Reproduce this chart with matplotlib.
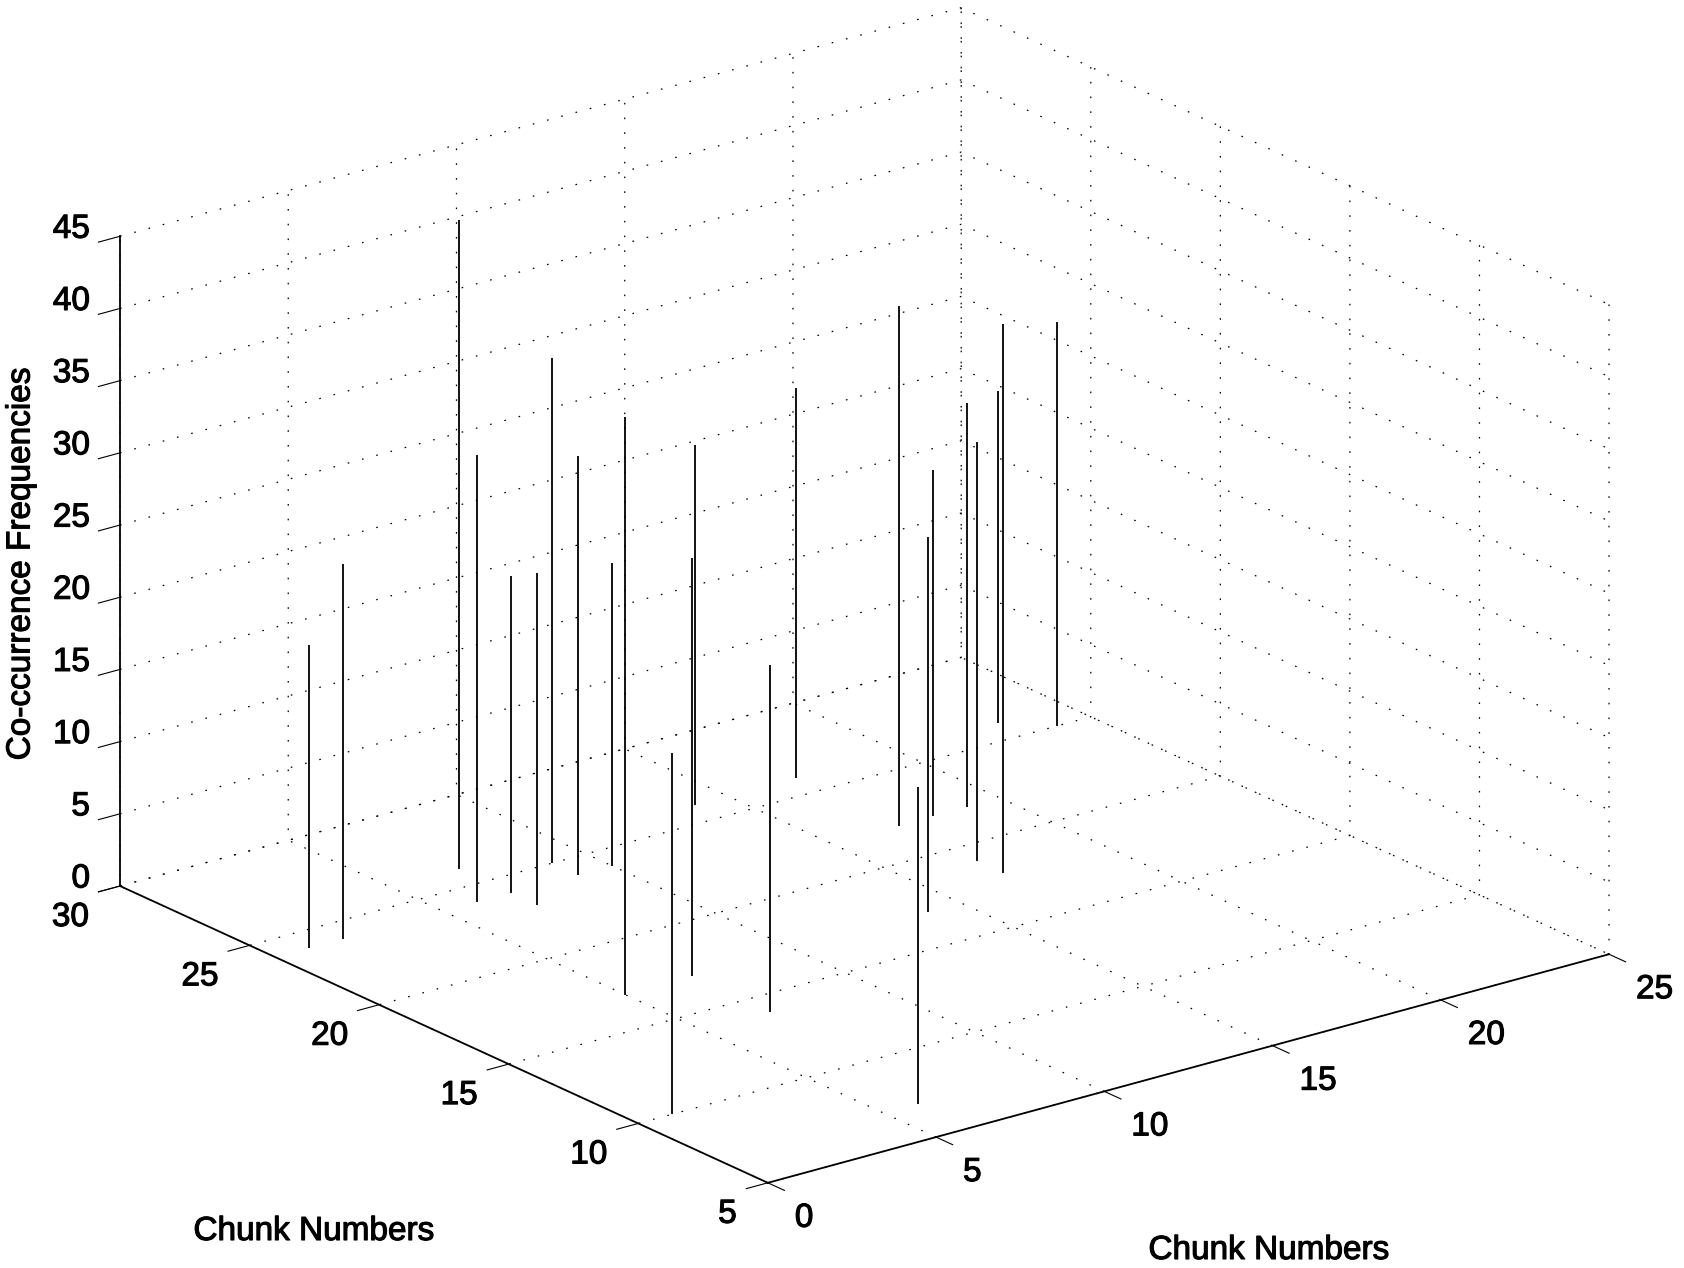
import matplotlib.pyplot as plt
import matplotlib.patheffects as pe
import numpy as np
from matplotlib.transforms import ScaledTranslation
from mpl_toolkits.mplot3d import proj3d

plt.rcParams["font.family"] = ["Liberation Sans", "DejaVu Sans"]

# chunk pairs and their co-occurrence counts
chunk_x = [1, 2, 7, 6, 7, 7, 9, 9, 10, 5, 1, 7, 14, 7, 17, 17, 6, 14, 18, 19, 17, 23, 17, 24]
chunk_y = [24, 24, 26, 24, 24, 23, 25, 24, 24, 17, 10, 17, 26, 14, 26, 22, 7, 17, 22, 22, 19, 26, 18, 25]
freq = [21, 26, 45, 31, 22, 23, 35, 29, 21, 40, 25, 29, 25, 24, 27, 36, 22, 26, 24, 28, 29, 23, 38, 28]

x_ticks = [0, 5, 10, 15, 20, 25]
y_ticks = [5, 10, 15, 20, 25, 30]
z_ticks = [0, 5, 10, 15, 20, 25, 30, 35, 40, 45]

W, H = 1684, 1268
fig = plt.figure(figsize=(W / 100, H / 100), dpi=100)
ax = fig.add_axes([0, 0, 1, 1], projection="3d", proj_type="ortho")
ax.view_init(elev=20.66, azim=-127.6)
ax.set_box_aspect((1, 1, 0.654))

markerline, stemlines, baseline = ax.stem(
    chunk_x, chunk_y, freq, linefmt="k-", markerfmt=" ", basefmt=" "
)
markerline.set_visible(False)
baseline.set_visible(False)
stemlines.set_linewidth(1.3)

ax.set_xlim(x_ticks[0], x_ticks[-1])
ax.set_ylim(y_ticks[0], y_ticks[-1])
ax.set_zlim(z_ticks[0], z_ticks[-1])
ax.set_xticks(x_ticks)
ax.set_yticks(y_ticks)
ax.set_zticks(z_ticks)

# matlab-ish look: no pane fill, sparse dotted grid, black axis lines
for axis in (ax.xaxis, ax.yaxis, ax.zaxis):
    axis.pane.set_fill(False)
    axis.pane.set_edgecolor("none")
    axis._axinfo["grid"].update(color="black", linewidth=0.9, linestyle=(0, (1.3, 10.5)))
    axis._axinfo["tick"].update(inward_factor=0.32, outward_factor=0.0)
    axis._axinfo["axisline"]["color"] = (0, 0, 0, 1)
    axis.line.set_color("black")
    axis.line.set_linewidth(1.3)
    # own tick labels are drawn below, so switch off the built-in ones
    axis.set_tick_params(labelbottom=False, labeltop=False, colors="black", width=1.0)

heavy = [pe.withStroke(linewidth=0.8, foreground="black")]

fig.text(21 / W, 1 - 564 / H, "Co-ccurrence Frequencies", rotation=90,
         ha="center", va="center", fontsize=24, path_effects=heavy)
fig.text(314 / W, 1 - 1240 / H, "Chunk Numbers", ha="center", va="baseline",
         fontsize=24, path_effects=heavy)
fig.text(1269 / W, 1 - 1259 / H, "Chunk Numbers", ha="center", va="baseline",
         fontsize=24, path_effects=heavy)

# fit the 3d box onto the page: left corner and right corner of the floor
fig.canvas.draw()


def to_pixels(x, y, z):
    px, py, _ = proj3d.proj_transform(x, y, z, ax.M)
    return ax.transData.transform((px, py))


left_now = to_pixels(x_ticks[0], y_ticks[-1], 0)
right_now = to_pixels(x_ticks[-1], y_ticks[0], 0)
left_goal = np.array([120.0, H - 886.0])
right_goal = np.array([1609.0, H - 955.0])
scale = np.linalg.norm(right_goal - left_goal) / np.linalg.norm(right_now - left_now)
pos = ax.get_position()
cx = (pos.x0 + pos.x1) / 2 * W
cy = (pos.y0 + pos.y1) / 2 * H
side = pos.width * W * scale
new_cx = left_goal[0] - (left_now[0] - cx) * scale
new_cy = left_goal[1] - (left_now[1] - cy) * scale
ax.set_position([(new_cx - side / 2) / W, (new_cy - side / 2) / H, side / W, side / H])


# tick labels placed like matlab does it, shifted in pixels from the tick
def tick_label(x, y, z, text, dx, dy, ha):
    px, py, _ = proj3d.proj_transform(x, y, z, ax.M)
    shift = ScaledTranslation(dx / 100, -dy / 100, fig.dpi_scale_trans)
    ax.text2D(px, py, text, ha=ha, va="baseline", fontsize=24,
              transform=ax.transData + shift, path_effects=heavy)


for v in x_ticks:
    tick_label(v, y_ticks[0], z_ticks[0], str(v), 27, 44, "left")
for v in y_ticks:
    tick_label(x_ticks[0], v, z_ticks[0], str(v), -31, 40, "right")
for v in z_ticks:
    tick_label(x_ticks[0], y_ticks[-1], v, str(v), -30, 1.5, "right")

fig.savefig("out.png", dpi=100, facecolor="white")
